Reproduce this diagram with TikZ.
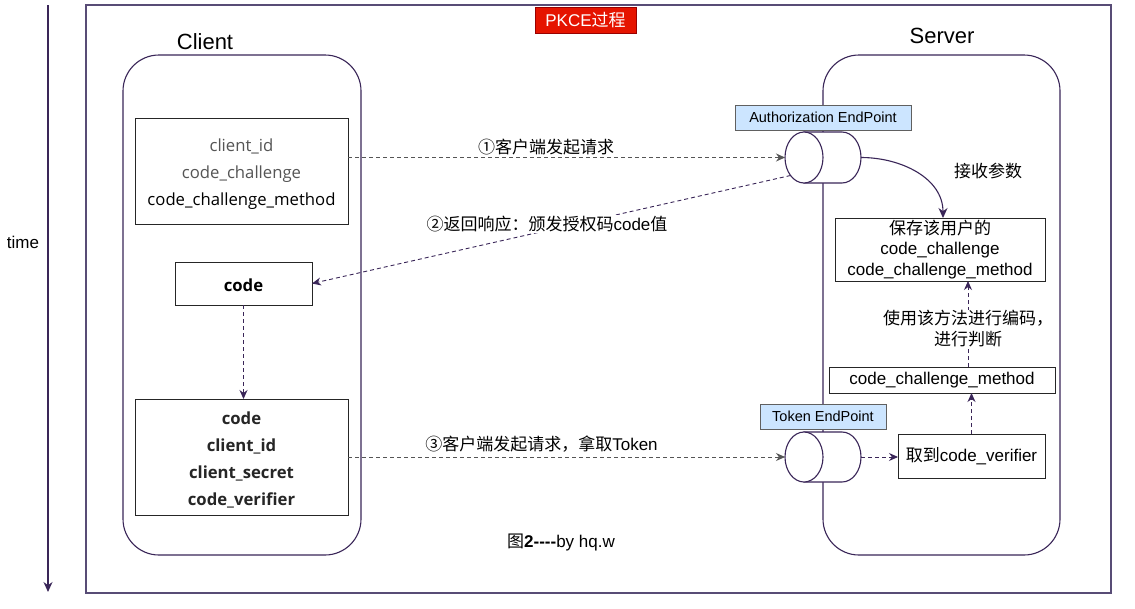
\documentclass[tikz,border=0pt]{standalone}
\usepackage{fontspec}
\setmainfont{Liberation Sans}
\newfontfamily\cjk{Noto Sans CJK SC}
\newfontfamily\osans{Open Sans}
\usetikzlibrary{arrows.meta,calc}
\definecolor{lc}{RGB}{58,38,88}
\definecolor{fr}{RGB}{88,76,118}
\definecolor{epfill}{RGB}{204,229,255}
\definecolor{titlered}{RGB}{229,20,0}
\definecolor{graytxt}{RGB}{85,85,85}
\definecolor{darr}{RGB}{85,85,85}
\begin{document}
\begin{tikzpicture}[x=1pt,y=-1pt,
  font=\fontsize{17}{21}\selectfont,
  box/.style={draw=black!85, line width=0.9pt, inner sep=0, outer sep=0, align=center},
  boxtext/.style={inner sep=0, align=center},
  lane/.style={draw=lc, line width=1.1pt, rounded corners=36pt, inner sep=0, outer sep=0},
  eplabel/.style={draw=gray!75!black, fill=epfill, line width=1pt, inner sep=0, outer sep=0, font=\fontsize{14.5}{16}\selectfont},
  cylst/.style={draw=lc, fill=white, line width=1.1pt},
  cylnode/.style={inner sep=0, outer sep=0, minimum width=76pt, minimum height=51pt},
  req/.style={draw=darr, dash pattern=on 4pt off 3pt, line width=0.9pt, -{Stealth[length=9pt,width=8pt]}},
  flow/.style={draw=lc, dash pattern=on 4pt off 3pt, line width=0.9pt, -{Stealth[length=9pt,width=8pt]}},
  lbl/.style={inner sep=1pt, fill=white, align=center}
]
\useasboundingbox (0,0) rectangle (1135,608);
\fill[white] (0,0) rectangle (1135,608);

% outer frame
\node[draw=fr, line width=1.4pt, inner sep=0, outer sep=0, minimum width=1025pt, minimum height=588pt, anchor=north west] (frame) at (86,5) {};

% time axis
\coordinate (t0) at (48,5);
\coordinate (t1) at (48,592);
\draw[lc, line width=1.2pt, -{Stealth[length=10pt,width=9pt]}] (t0) -- (t1);
\node (timel) at (23,242) {time};

% title
\node[fill=titlered, draw=red!60!black, line width=0.5pt, text=white, minimum width=101pt, minimum height=26pt, inner sep=0] (title) at (585.5,20) {PKCE{\cjk 过程}};

% lanes
\node[font=\fontsize{22}{24}\selectfont] (clientl) at (205,42) {Client};
\node[lane, minimum width=238pt, minimum height=500pt] (client) at (242,305) {};
\node[font=\fontsize{22}{24}\selectfont] (serverl) at (942,36) {Server};
\node[lane, minimum width=237pt, minimum height=500pt] (server) at (941.5,305) {};

% client boxes
\node[box, minimum width=213pt, minimum height=106pt] (req1) at (241.5,171) {};
\node[boxtext, font=\osans\fontsize{16.7}{27}\selectfont] (req1t) at (241.5,174)
  {\textcolor{graytxt}{client\_id}\\\textcolor{graytxt}{code\_challenge}\\code\_challenge\_method};
\node[box, minimum width=137pt, minimum height=43pt] (code) at (243.5,283.5) {};
\node[boxtext, font=\osans\bfseries\fontsize{16.7}{20}\selectfont] (codet) at (243.5,285.5) {code};
\node[box, minimum width=213pt, minimum height=116pt] (req3) at (241.5,457) {};
\node[boxtext, font=\osans\bfseries\fontsize{16.7}{27}\selectfont, text=black!85] (req3t) at (241.5,460)
  {code\\client\_id\\client\_secret\\code\_verifier};

% server boxes
\node[box, minimum width=210pt, minimum height=63pt, font=\fontsize{17}{20.5}\selectfont] (save) at (940,249.5)
  {{\cjk 保存该用户的}\\code\_challenge\\code\_challenge\_method};
\node[box, minimum width=226pt, minimum height=26pt, font=\fontsize{17}{20}\selectfont] (ccm) at (942,380) {code\_challenge\_method};
\node[box, minimum width=147pt, minimum height=44pt, font=\fontsize{17}{20}\selectfont] (verif) at (971.5,456) {{\cjk 取到}code\_verifier};

% endpoint labels
\node[eplabel, minimum width=176pt, minimum height=25pt] (authl) at (823,117.5) {Authorization EndPoint};
\node[eplabel, minimum width=126pt, minimum height=25pt] (tokl) at (823,416.5) {Token EndPoint};

% cylinders
\node[cylnode] (cyl1) at (823,157.5) {};
\draw[cylst] ([xshift=19pt]cyl1.north west) -- ([xshift=-19pt]cyl1.north east)
  arc[start angle=90, end angle=-90, x radius=19pt, y radius=25.5pt] -- ([xshift=19pt]cyl1.south west) -- cycle;
\draw[cylst] ([xshift=19pt]cyl1.west) ellipse [x radius=19pt, y radius=25.5pt];
\node[cylnode, minimum height=50pt] (cyl2) at (823,457) {};
\draw[cylst] ([xshift=19pt]cyl2.north west) -- ([xshift=-19pt]cyl2.north east)
  arc[start angle=90, end angle=-90, x radius=19pt, y radius=25pt] -- ([xshift=19pt]cyl2.south west) -- cycle;
\draw[cylst] ([xshift=19pt]cyl2.west) ellipse [x radius=19pt, y radius=25pt];

% connectors
\draw[req] (req1.east |- cyl1.west) -- (cyl1.west);
\node (l1) at (546,147) {{\cjk ①客户端发起请求}};

\coordinate (c1a) at (790.5,175.5);
\draw[flow] (c1a) -- (code.east);
\node[lbl] (l2) at (547,224) {{\cjk ②返回响应：颁发授权码}code{\cjk 值}};

\draw[flow] (code.south) -- (req3.north -| code.south);

\draw[req] (req3.east) -- (req3.east -| cyl2.west);
\node (l3) at (541.5,444) {{\cjk ③客户端发起请求，拿取}Token};

\draw[lc, line width=1.1pt, -{Stealth[length=10pt,width=9pt]}] (cyl1.east) to[out=0, in=90] ([xshift=3pt]save.north);
\node (l4) at (988,171) {{\cjk 接收参数}};

\draw[flow] (cyl2.east) -- (cyl2.east -| verif.west);
\draw[flow] (verif.north) -- (verif.north |- ccm.south);
\draw[flow] ([xshift=26pt]ccm.north) -- ([xshift=26pt]ccm.north |- save.south);
\node[lbl, font=\cjk\fontsize{17}{21}\selectfont] (l5) at (968,329) {使用该方法进行编码，\\进行判断};

\node (fig) at (561,542) {{\cjk 图}\textbf{2{-}{-}{-}{-}}by hq.w};
\end{tikzpicture}
\end{document}
